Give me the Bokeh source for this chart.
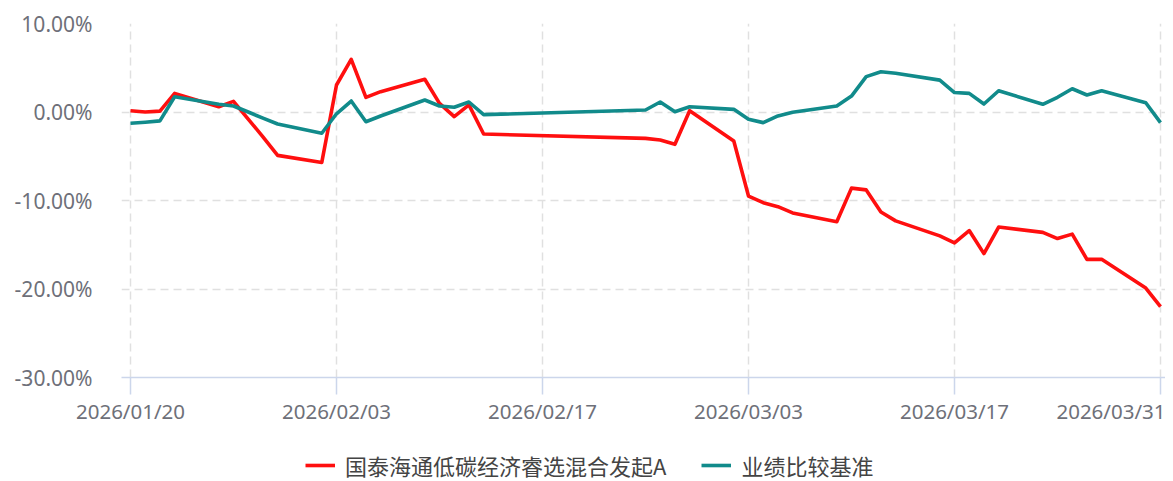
import pandas as pd
from bokeh.plotting import figure
from bokeh.layouts import column
from bokeh.models import (ColumnDataSource, FixedTicker, DatetimeTickFormatter,
                          PrintfTickFormatter, Range1d, Legend, LegendItem)
from bokeh.embed import file_html
from bokeh.resources import INLINE

dates = ["2026-01-20", "2026-01-21", "2026-01-22", "2026-01-23", "2026-01-26",
         "2026-01-27", "2026-01-28", "2026-01-29", "2026-01-30", "2026-02-02",
         "2026-02-03", "2026-02-04", "2026-02-05", "2026-02-06", "2026-02-09",
         "2026-02-10", "2026-02-11", "2026-02-12", "2026-02-13", "2026-02-24",
         "2026-02-25", "2026-02-26", "2026-02-27", "2026-03-02", "2026-03-03",
         "2026-03-04", "2026-03-05", "2026-03-06", "2026-03-09", "2026-03-10",
         "2026-03-11", "2026-03-12", "2026-03-13", "2026-03-16", "2026-03-17",
         "2026-03-18", "2026-03-19", "2026-03-20", "2026-03-23", "2026-03-24",
         "2026-03-25", "2026-03-26", "2026-03-27", "2026-03-30", "2026-03-31"]

fund = [0.15, 0.0, 0.1, 2.1, 0.6,
        1.2, -0.8, -2.8, -4.9, -5.7,
        3.05, 5.95, 1.66, 2.3, 3.7,
        0.98, -0.53, 0.8, -2.49, -2.98,
        -3.16, -3.65, 0.15, -3.28, -9.5,
        -10.25, -10.7, -11.4, -12.4, -8.6,
        -8.8, -11.3, -12.3, -14.0, -14.8,
        -13.4, -16.0, -13.0, -13.6, -14.3,
        -13.8, -16.65, -16.65, -19.9, -22.0]

bench = [-1.28, -1.15, -1.0, 1.73, 0.87,
         0.68, 0.0, -0.7, -1.36, -2.4,
         -0.2, 1.24, -1.1, -0.45, 1.36,
         0.68, 0.53, 1.13, -0.3, 0.23,
         1.13, 0.03, 0.6, 0.3, -0.83,
         -1.2, -0.45, -0.03, 0.68, 1.8,
         4.0, 4.55, 4.37, 3.6, 2.2,
         2.1, 0.9, 2.4, 0.87, 1.66,
         2.63, 1.92, 2.4, 1.05, -1.2]

x_ticks = ["2026-01-20", "2026-02-03", "2026-02-17", "2026-03-03", "2026-03-17", "2026-03-31"]
y_ticks = [-30, -20, -10, 0, 10]

series_names = ["国泰海通低碳经济睿选混合发起A", "业绩比较基准"]
series_colors = ["#ff0f0f", "#118b8b"]

dt = pd.to_datetime(dates)
src = ColumnDataSource(dict(x=dt, fund=fund, bench=bench))

W = 1165
LEFT = 121
day = pd.Timedelta(days=1)
px_per_day = 1030 / 70
x_start = pd.Timestamp(x_ticks[0]) - day * (9 / px_per_day)
x_end = pd.Timestamp(x_ticks[-1]) + day * ((W - 1160) / px_per_day)

p = figure(width=W, height=430, x_axis_type="datetime",
           output_backend="svg", toolbar_location=None,
           x_range=Range1d(x_start, x_end), y_range=Range1d(-30, 10))
p.min_border_left = LEFT
p.min_border_right = 0
p.min_border_top = 23
p.min_border_bottom = 53
p.outline_line_color = None
p.background_fill_color = "white"
p.border_fill_color = "white"

tick_ms = [pd.Timestamp(t).value / 1e6 for t in x_ticks]
p.xaxis.ticker = FixedTicker(ticks=tick_ms)
fmt = "%Y/%m/%d"
p.xaxis.formatter = DatetimeTickFormatter(milliseconds=fmt, seconds=fmt, minsec=fmt,
                                          minutes=fmt, hourmin=fmt, hours=fmt,
                                          days=fmt, months=fmt, years=fmt)
p.xaxis.axis_line_color = "#ccd6eb"
p.xaxis.axis_line_width = 1.5
p.xaxis.major_tick_line_color = "#ccd6eb"
p.xaxis.major_tick_line_width = 1.5
p.xaxis.major_tick_out = 17
p.xaxis.major_tick_in = 0
p.xaxis.minor_tick_line_color = None
p.xaxis.major_label_standoff = 2
p.xaxis.major_label_text_font = "Noto Sans"
p.xaxis.major_label_text_font_size = "20.5px"
p.xaxis.major_label_text_color = "#6e7079"

p.yaxis.ticker = FixedTicker(ticks=y_ticks)
p.yaxis.formatter = PrintfTickFormatter(format="%.2f%%")
p.yaxis.axis_line_color = None
p.yaxis.major_tick_line_color = None
p.yaxis.minor_tick_line_color = None
p.yaxis.major_label_standoff = 23
p.yaxis.major_label_text_font = "Noto Sans"
p.yaxis.major_label_text_font_size = "21px"
p.yaxis.major_label_text_color = "#6e7079"

for g in (p.xgrid, p.ygrid):
    g.grid_line_color = "#e0e0e0"
    g.grid_line_dash = "8 5"
    g.grid_line_width = 1.5
p.xgrid.ticker = p.xaxis.ticker
p.ygrid.ticker = p.yaxis.ticker

p.line("x", "fund", source=src, line_color=series_colors[0], line_width=3.6,
       line_join="round")
p.line("x", "bench", source=src, line_color=series_colors[1], line_width=3.6,
       line_join="round")

# legend strip below the chart (its frame is aligned with the chart's frame)
lg = figure(width=W, height=51, output_backend="svg", toolbar_location=None,
            x_axis_type=None, y_axis_type=None, x_range=Range1d(0, 1), y_range=Range1d(0, 1))
lg.min_border = 0
lg.outline_line_color = None
lg.xgrid.visible = False
lg.ygrid.visible = False
# swatch renderers placed outside the visible range (legend keys only)
swatch = ColumnDataSource(dict(x=[5, 6], y=[5, 6]))
lr1 = lg.line("x", "y", source=swatch, line_color=series_colors[0], line_width=3.6)
lr2 = lg.line("x", "y", source=swatch, line_color=series_colors[1], line_width=3.6)

legend = Legend(items=[LegendItem(label=series_names[0], renderers=[lr1]),
                       LegendItem(label=series_names[1], renderers=[lr2])],
                orientation="horizontal", location=(305 - LEFT, 0))
legend.label_text_font = "Noto Sans CJK SC"
legend.label_text_font_size = "22px"
legend.label_text_color = "#444444"
legend.glyph_width = 30
legend.glyph_height = 20
legend.label_standoff = 10
legend.spacing = 35
legend.padding = 0
legend.margin = 0
legend.border_line_color = None
legend.background_fill_alpha = 0
lg.add_layout(legend, "center")

layout = column(p, lg, spacing=0)
open("out.html", "w").write(file_html(layout, INLINE))
